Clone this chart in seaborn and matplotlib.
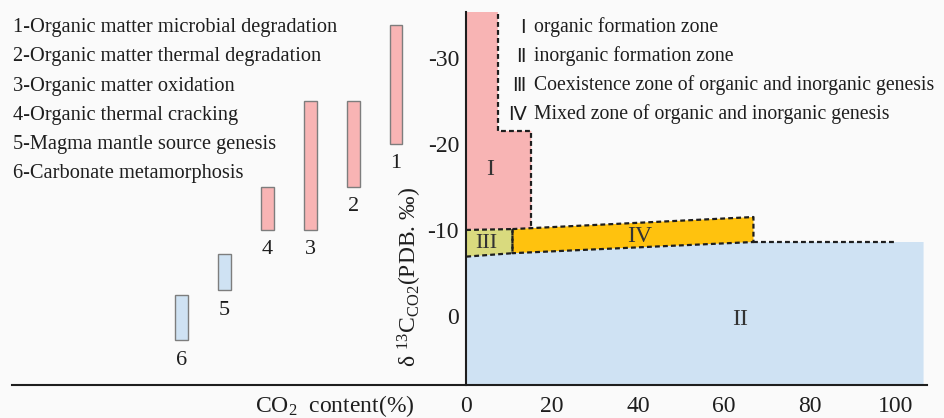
import matplotlib
matplotlib.use("Agg")
import matplotlib.pyplot as plt
import seaborn as sns

# genesis sources of CO2: delta13C ranges (per mil, PDB)
source_ids = ["1", "2", "3", "4", "5", "6"]
source_names = [
    "Organic matter microbial degradation",
    "Organic matter thermal degradation",
    "Organic matter oxidation",
    "Organic thermal cracking",
    "Magma mantle source genesis",
    "Carbonate metamorphosis",
]
source_top = [-33.8, -25.0, -25.0, -15.0, -7.2, -2.5]
source_bottom = [-20.0, -15.0, -10.0, -10.0, -3.0, 2.8]
source_kind = ["organic", "organic", "organic", "organic", "inorganic", "inorganic"]

# genesis zones
zone_numerals = ["Ⅰ", "Ⅱ", "Ⅲ", "Ⅳ"]
zone_names = [
    "organic formation zone",
    "inorganic formation zone",
    "Coexistence zone of organic and inorganic genesis",
    "Mixed zone of organic and inorganic genesis",
]
zone1_x = [0, 7.4, 7.4, 15.2, 15.2, 0]
zone1_y = [-36.0, -36.0, -21.5, -21.5, -10.2, -10.0]
zone2_x = [0, 10.8, 66.9, 106.5, 106.5, 0]
zone2_y = [-6.9, -7.3, -8.6, -8.6, 8.0, 8.0]
zone3_x = [0, 10.8, 10.8, 0]
zone3_y = [-10.0, -10.1, -7.3, -6.9]
zone4_x = [10.8, 66.9, 66.9, 10.8]
zone4_y = [-10.1, -11.5, -8.6, -7.3]
zone2_edge_x = [66.9, 100.0]
zone2_edge_y = [-8.6, -8.6]

x_ticks = [0, 20, 40, 60, 80, 100]
y_ticks = [-30, -20, -10, 0]

sns.set_style("white")
plt.rcParams["font.family"] = ["Liberation Serif", "DejaVu Sans"]
plt.rcParams["mathtext.fontset"] = "custom"
plt.rcParams["mathtext.rm"] = "Liberation Serif"
plt.rcParams["mathtext.it"] = "Liberation Serif:italic"
plt.rcParams["axes.unicode_minus"] = False

colors = {"organic": "#f8b4b4", "inorganic": "#cfe2f3"}
ink = "#1e1e1e"
bg = "#fafafa"

fig = plt.figure(figsize=(9.44, 4.18), dpi=100, facecolor=bg)
ax = fig.add_axes([12 / 944, 33 / 418, 915 / 944, 373 / 418])
ax.set_facecolor(bg)

# zones
ax.fill(zone2_x, zone2_y, color=colors["inorganic"], lw=0, zorder=1)
ax.fill(zone1_x, zone1_y, color=colors["organic"], lw=0, zorder=1)
ax.fill(zone3_x, zone3_y, color="#d9da7e", lw=0, zorder=2)
ax.fill(zone4_x, zone4_y, color="#ffc20e", lw=0, zorder=2)

dash = dict(ls=(0, (2.2, 1.4)), color=ink, lw=1.6, zorder=3)
ax.plot(zone1_x[1:5], zone1_y[1:5], **dash)
ax.plot(zone3_x, zone3_y, **dash)
ax.plot(zone4_x + zone4_x[:1], zone4_y + zone4_y[:1], **dash)
ax.plot(zone2_edge_x, zone2_edge_y, **dash)

ax.text(5.6, -17.0, "I", ha="center", va="center", fontsize=17, color="#333")
ax.text(4.8, -8.4, "III", ha="center", va="center", fontsize=16, color="#333")
ax.text(40.5, -9.2, "IV", ha="center", va="center", fontsize=17, color="#333")
ax.text(63.7, 0.4, "II", ha="center", va="center", fontsize=17, color="#333")

# source range bars on the left
for i, (sid, top, bot, kind) in enumerate(zip(source_ids, source_top, source_bottom, source_kind)):
    xc = -16.3 - 10 * i
    ax.bar(xc, bot - top, bottom=top, width=3.0, color=colors[kind],
           edgecolor="#7d7d7d", lw=1.0, zorder=2)
    ax.text(xc, bot + 2.3, sid, ha="center", va="center", fontsize=16, color=ink)

for i, (sid, name) in enumerate(zip(source_ids, source_names)):
    ax.text(-105.5, -33.5 + 3.4 * i, f"{sid}-{name}", ha="left", va="center",
            fontsize=14.7, color=ink)

for i, (num, name) in enumerate(zip(zone_numerals, zone_names)):
    y = -33.5 + 3.35 * i
    ax.text(13.9, y, num, ha="right", va="center", fontsize=14, color=ink,
            family=["DejaVu Sans", "Noto Sans CJK SC"])
    ax.text(15.8, y, name, ha="left", va="center", fontsize=14.2, color=ink)

# axes
ax.set_xlim(-105.7, 107.3)
ax.set_ylim(8.0, -35.3)
ax.spines["left"].set_position(("data", 0))
ax.spines["top"].set_visible(False)
ax.spines["right"].set_visible(False)
for s in ["left", "bottom"]:
    ax.spines[s].set_color(ink)
    ax.spines[s].set_linewidth(1.5)
    ax.spines[s].set_zorder(4)

ax.set_xticks(x_ticks)
ax.set_xticks([10, 30, 50, 70, 90], minor=True)
ax.set_yticks(y_ticks)
ax.set_yticklabels([str(v) for v in y_ticks])
ax.tick_params(which="both", direction="in", length=6, width=1.3, color=ink)
ax.tick_params(axis="x", labelsize=17, pad=8, labelcolor=ink)
ax.tick_params(axis="y", labelsize=17, pad=5, labelcolor=ink)

ax.set_xlabel("CO$_2$  content(%)", fontsize=17, color=ink)
ax.xaxis.set_label_coords(-30.5, 10.4, transform=ax.transData)
ax.set_ylabel("δ $^{13}$C$_{\\mathrm{CO2}}$(PDB. ‰)", fontsize=17, color=ink)
ax.yaxis.set_label_coords(-13.1, -4.5, transform=ax.transData)
ax.yaxis.label.set_va("center")
ax.xaxis.label.set_va("center")

fig.savefig("out.png", dpi=100, facecolor=bg)
